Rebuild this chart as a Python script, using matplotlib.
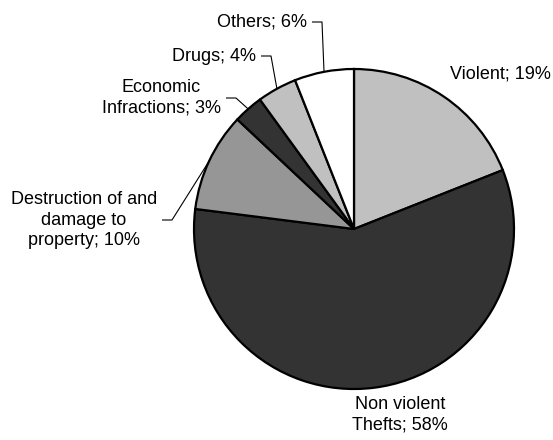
import numpy as np
import matplotlib
matplotlib.use("Agg")
import matplotlib.pyplot as plt

plt.rcParams['font.family'] = ['Liberation Sans', 'DejaVu Sans']

# Offences by category (share of total, %)
categories = ["Violent", "Non violent\nThefts", "Destruction of and\ndamage to\nproperty",
              "Economic\nInfractions", "Drugs", "Others"]
shares = [19, 58, 10, 3, 4, 6]
colors = ["#c0c0c0", "#333333", "#969696", "#333333", "#c0c0c0", "#ffffff"]

W, H = 553, 440
fig = plt.figure(figsize=(W / 100, H / 100), dpi=100)
ax = fig.add_axes([0, 0, 1, 1])

cx, cy, r = 354, H - 229, 160
wedges, _ = ax.pie(shares, colors=colors, startangle=90, counterclock=False,
                   center=(cx, cy), radius=r,
                   wedgeprops=dict(edgecolor="black", linewidth=1.6))
ax.set_xlim(0, W)
ax.set_ylim(0, H)
ax.set_aspect('equal')
ax.axis('off')

fs = 13
labels = [f"{c}; {v}%" for c, v in zip(categories, shares)]


def edge_point(w):
    a = np.deg2rad((w.theta1 + w.theta2) / 2)
    return cx + r * np.cos(a), cy + r * np.sin(a)


# Labels placed beside the pie without leader lines
ax.text(450, H - 74, labels[0], fontsize=fs, ha='left', va='center')
ax.text(400, H - 415, labels[1], fontsize=fs, ha='center', va='center',
        multialignment='center', linespacing=1.25)

# Labels on the upper-left side, joined to their slice by a leader line
leader = [(2, 157, 220), (3, 221, 98), (4, 256, 56), (5, 307, 22)]
for idx, xr, yc in leader:
    ax.text(xr, H - yc, labels[idx], fontsize=fs, ha='right', va='center',
            multialignment='center', linespacing=1.25)
    ex, ey = edge_point(wedges[idx])
    ax.plot([xr + 5, xr + 15, ex], [H - yc, H - yc, ey], color='black',
            linewidth=0.8, solid_capstyle='butt')

fig.savefig("out.png", dpi=100)
